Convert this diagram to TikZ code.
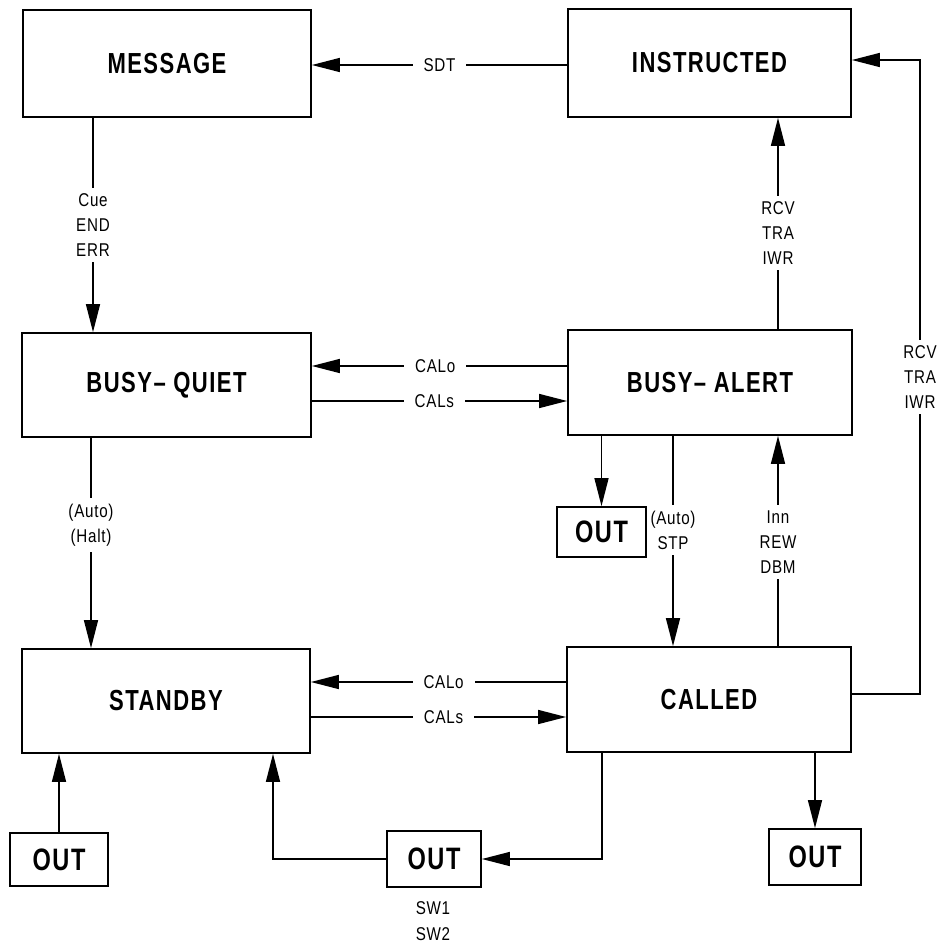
\documentclass[tikz,border=0pt]{standalone}
\usepackage{fontspec}
\setmainfont{Liberation Sans}
\newfontfamily\bigf{Liberation Sans}[FakeStretch=0.76,LetterSpace=5]
\newfontfamily\smf{Liberation Sans}[FakeStretch=0.82,LetterSpace=4]
\usetikzlibrary{arrows.meta}
\begin{document}
\begin{tikzpicture}[x=1pt,y=-1pt,
 state/.style={draw,line width=1.7pt,inner sep=0pt,font=\bigf\bfseries\fontsize{29}{30}\selectfont},
 outbox/.style={draw,line width=1.7pt,inner sep=0pt,font=\bigf\bfseries\fontsize{31}{32}\selectfont},
 conn/.style={line width=1.4pt},
 arr/.style={conn,-{Triangle[length=28pt,width=14pt]}},
 lbl/.style={fill=white,align=center,font=\smf\fontsize{18.5}{25}\selectfont,inner xsep=11pt,inner ysep=6pt},
 vlbl/.style={lbl,inner xsep=1pt}
]
\useasboundingbox (0,0) rectangle (942,945);
% states
\node[state,minimum width=288pt,minimum height=107pt] (msg) at (167,63.5) {MESSAGE};
\node[state,minimum width=283pt,minimum height=108pt] (ins) at (709.5,63) {INSTRUCTED};
\node[state,minimum width=289pt,minimum height=104pt] (bq) at (166.5,385) {BUSY– QUIET};
\node[state,minimum width=284pt,minimum height=105pt] (ba) at (710,382.5) {BUSY– ALERT};
\node[state,minimum width=288pt,minimum height=104pt] (sb) at (166,701) {STANDBY};
\node[state,minimum width=284pt,minimum height=105pt] (cal) at (709,699.5) {CALLED};
% out boxes
\node[outbox,minimum width=89pt,minimum height=50pt] (out1) at (601.5,532) {OUT};
\node[outbox,minimum width=98pt,minimum height=53pt] (out2) at (59,859.5) {OUT};
\node[outbox,minimum width=94pt,minimum height=56pt] (out3) at (434,859) {OUT};
\node[outbox,minimum width=92pt,minimum height=56pt] (out4) at (815,857) {OUT};
\node[font=\smf\fontsize{18.5}{26}\selectfont,align=center] (sw) at (433,921) {SW1\\SW2};
% guide coordinates
\coordinate (xa) at (93,0);
\coordinate (xb) at (91,0);
\coordinate (xc) at (778,0);
\coordinate (xd) at (673,0);
\coordinate (xe) at (920,0);
\coordinate (xf) at (602,0);
\coordinate (xg) at (273,0);
\coordinate (ysdt) at (0,65);
\coordinate (yca) at (0,366);
\coordinate (ycb) at (0,401);
\coordinate (ycc) at (0,682);
\coordinate (ycd) at (0,717);
\coordinate (yra) at (0,694);
\coordinate (yrb) at (0,60);
% connectors
\draw[arr] (ins.west |- ysdt) -- node[lbl]{SDT} (msg.east |- ysdt);
\draw[arr] (msg.south -| xa) -- node[vlbl]{Cue\\END\\ERR} (bq.north -| xa);
\draw[arr] (bq.south -| xb) -- node[vlbl,pos=0.415]{(Auto)\\(Halt)} (sb.north -| xb);
\draw[arr] (ba.north -| xc) -- node[vlbl,pos=0.455]{RCV\\TRA\\IWR} (ins.south -| xc);
\draw[arr] (ba.south -| xd) -- node[vlbl,pos=0.448]{(Auto)\\STP} (cal.north -| xd);
\draw[arr] (cal.north -| xc) -- node[vlbl,pos=0.495]{Inn\\REW\\DBM} (ba.south -| xc);
\draw[arr] (cal.east |- yra) -- (xe |- yra) -- node[vlbl]{RCV\\TRA\\IWR} (xe |- yrb) -- (ins.east |- yrb);
\draw[arr] (ba.west |- yca) -- node[lbl,pos=0.517]{CALo} (bq.east |- yca);
\draw[arr] (bq.east |- ycb) -- node[lbl,pos=0.48]{CALs} (ba.west |- ycb);
\draw[arr] (cal.west |- ycc) -- node[lbl,pos=0.48]{CALo} (sb.east |- ycc);
\draw[arr] (sb.east |- ycd) -- node[lbl,pos=0.52]{CALs} (cal.west |- ycd);
\draw[arr] (ba.south -| out1.north) -- (out1.north);
\draw[arr] (cal.south -| out4.north) -- (out4.north);
\draw[arr] (out2.north) -- (sb.south -| out2.north);
\draw[arr] (cal.south -| xf) |- (out3.east);
\draw[arr] (out3.west) -| (sb.south -| xg);
\end{tikzpicture}
\end{document}
